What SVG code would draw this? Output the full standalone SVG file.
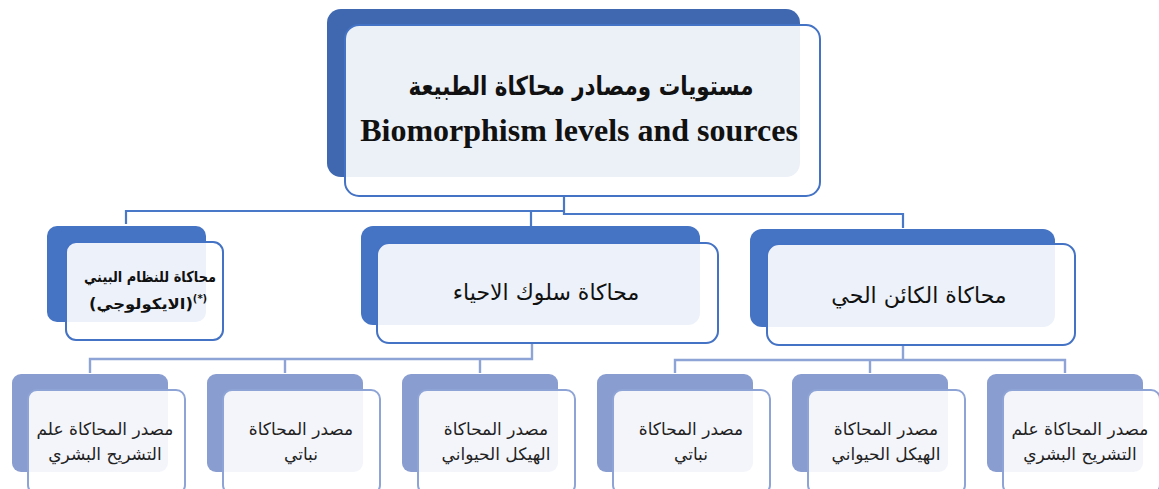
<svg xmlns="http://www.w3.org/2000/svg" width="1159" height="489" viewBox="0 0 1159 489">
<style>
.bk1{fill:#3f68b1}
.bk2{fill:#4674c4}
.bk3{fill:#8a9dd0}
.fr1{fill:#ffffff;fill-opacity:0.9;stroke:#4472c4;stroke-width:2}
.fr3{fill:#ffffff;fill-opacity:0.9;stroke:#8ea4d6;stroke-width:2}
.c1{fill:none;stroke:#4a78c8;stroke-width:2.2}
.c3{fill:none;stroke:#8ea4d6;stroke-width:2.4}
.ar{font-family:"DejaVu Sans",sans-serif;text-anchor:middle;fill:#111}
.t1{font-size:26px;font-weight:bold}
.en{font-family:"Liberation Serif",serif;font-size:32px;font-weight:bold;text-anchor:middle;fill:#111}
.t2{font-size:22px}
.te{font-size:15px;font-weight:bold}
.t3{font-size:17px;fill:#222}
</style>
<g id="connectors">
<path class="c1" d="M564 196 V211 H126 V224 M531 211 V226 M564 211 V214 H903 V228"/>
<path class="c3" d="M532 343 V359 H90 V373 M285 359 V373 M480 359 V373"/>
<path class="c3" d="M903 345 V360 H675 V373 M870 360 V373 M903 360 H1065 V373"/>
</g>
<g id="top">
<rect class="bk1" x="327" y="9" width="473" height="168" rx="14"/>
<rect class="fr1" x="345" y="25" width="475" height="171" rx="14"/>
<text class="ar t1" x="581" y="95" textLength="345" lengthAdjust="spacingAndGlyphs">مستويات ومصادر محاكاة الطبيعة</text>
<text class="en" x="579" y="141">Biomorphism levels and sources</text>
</g>
<g id="ecology">
<rect class="bk2" x="47" y="226" width="159" height="96" rx="10"/>
<rect class="fr1" x="66" y="242" width="157" height="98" rx="10"/>
<text class="ar te" x="150" y="282" textLength="132" lengthAdjust="spacingAndGlyphs">محاكاة للنظام البيني</text>
<text class="ar te" x="141" y="309" textLength="104" lengthAdjust="spacingAndGlyphs">(الايكولوجي)</text>
<text class="ar" x="200" y="302" font-size="10" font-weight="bold">(*)</text>
</g>
<g id="behavior">
<rect class="bk2" x="361" y="226" width="339" height="99" rx="12"/>
<rect class="fr1" x="377" y="243" width="341" height="100" rx="12"/>
<text class="ar t2" x="546" y="300">محاكاة سلوك الاحياء</text>
</g>
<g id="organism">
<rect class="bk2" x="750" y="229" width="305" height="98" rx="12"/>
<rect class="fr1" x="767" y="244" width="308" height="101" rx="12"/>
<text class="ar t2" x="919" y="303">محاكاة الكائن الحي</text>
</g>
<g id="n1">
<rect class="bk3" x="12" y="374" width="156" height="98" rx="9"/>
<rect class="fr3" x="28" y="390" width="157" height="104" rx="9"/>
<text class="ar t3" x="105" y="435">مصدر المحاكاة علم</text>
<text class="ar t3" x="105" y="460">التشريح البشري</text>
</g>
<g id="n2">
<rect class="bk3" x="207" y="374" width="156" height="98" rx="9"/>
<rect class="fr3" x="223" y="390" width="157" height="104" rx="9"/>
<text class="ar t3" x="301" y="435">مصدر المحاكاة</text>
<text class="ar t3" x="301" y="460">نباتي</text>
</g>
<g id="n3">
<rect class="bk3" x="402" y="374" width="156" height="98" rx="9"/>
<rect class="fr3" x="418" y="390" width="157" height="104" rx="9"/>
<text class="ar t3" x="496" y="435">مصدر المحاكاة</text>
<text class="ar t3" x="496" y="460">الهيكل الحيواني</text>
</g>
<g id="n4">
<rect class="bk3" x="597" y="374" width="156" height="98" rx="9"/>
<rect class="fr3" x="613" y="390" width="157" height="104" rx="9"/>
<text class="ar t3" x="691" y="435">مصدر المحاكاة</text>
<text class="ar t3" x="691" y="460">نباتي</text>
</g>
<g id="n5">
<rect class="bk3" x="792" y="374" width="156" height="98" rx="9"/>
<rect class="fr3" x="808" y="390" width="157" height="104" rx="9"/>
<text class="ar t3" x="886" y="435">مصدر المحاكاة</text>
<text class="ar t3" x="886" y="460">الهيكل الحيواني</text>
</g>
<g id="n6">
<rect class="bk3" x="987" y="374" width="156" height="98" rx="9"/>
<rect class="fr3" x="1003" y="390" width="157" height="104" rx="9"/>
<text class="ar t3" x="1080" y="435">مصدر المحاكاة علم</text>
<text class="ar t3" x="1080" y="460">التشريح البشري</text>
</g>
</svg>
